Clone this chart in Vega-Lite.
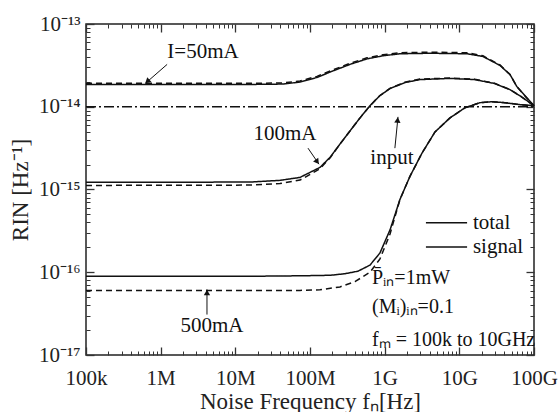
{
"$schema": "https://vega.github.io/schema/vega-lite/v6.json",
"width": 448, "height": 331,
"autosize": {"type": "none"},
"padding": {"left": 86, "top": 24, "right": 24, "bottom": 57},
"background": "white",
"config": {
 "font": "Liberation Serif, 'Times New Roman', serif",
 "view": {"stroke": "#222", "strokeWidth": 1.5},
 "axis": {"grid": false, "domain": false, "labelFont": "Liberation Serif, 'Times New Roman', serif", "titleFont": "Liberation Serif, 'Times New Roman', serif", "labelColor": "#222", "titleColor": "#222", "tickColor": "#333", "labelFontSize": 21, "titleFontSize": 23, "titleFontWeight": "normal", "labelFlush": false, "labelOverlap": false, "labelBound": false},
 "text": {"font": "Liberation Serif, 'Times New Roman', serif", "color": "#111"}
},
"datasets": {
 "curves": [
  {"c":"50mA","k":"total","f":1e5,"rin":1.86e-14},{"c":"50mA","k":"total","f":1.57e7,"rin":1.86e-14},{"c":"50mA","k":"total","f":4.35e7,"rin":1.88e-14},{"c":"50mA","k":"total","f":7.35e7,"rin":1.99e-14},{"c":"50mA","k":"total","f":1.24e8,"rin":2.26e-14},{"c":"50mA","k":"total","f":2.03e8,"rin":2.71e-14},{"c":"50mA","k":"total","f":3.43e8,"rin":3.25e-14},{"c":"50mA","k":"total","f":5.8e8,"rin":3.79e-14},{"c":"50mA","k":"total","f":9.5e8,"rin":4.13e-14},{"c":"50mA","k":"total","f":1.6e9,"rin":4.37e-14},{"c":"50mA","k":"total","f":4.05e9,"rin":4.43e-14},{"c":"50mA","k":"total","f":1.27e10,"rin":4.37e-14},{"c":"50mA","k":"total","f":2.07e10,"rin":4.05e-14},{"c":"50mA","k":"total","f":3.5e10,"rin":3.16e-14},{"c":"50mA","k":"total","f":4.77e10,"rin":2.45e-14},{"c":"50mA","k":"total","f":5.9e10,"rin":1.75e-14},{"c":"50mA","k":"total","f":7.57e10,"rin":1.36e-14},{"c":"50mA","k":"total","f":1e11,"rin":1.03e-14},
  {"c":"50mA","k":"signal","f":1e5,"rin":1.92e-14},{"c":"50mA","k":"signal","f":1.57e7,"rin":1.92e-14},{"c":"50mA","k":"signal","f":4.35e7,"rin":1.94e-14},{"c":"50mA","k":"signal","f":7.35e7,"rin":2.05e-14},{"c":"50mA","k":"signal","f":1.24e8,"rin":2.33e-14},{"c":"50mA","k":"signal","f":2.03e8,"rin":2.79e-14},{"c":"50mA","k":"signal","f":3.43e8,"rin":3.35e-14},{"c":"50mA","k":"signal","f":5.8e8,"rin":3.9e-14},{"c":"50mA","k":"signal","f":9.5e8,"rin":4.25e-14},{"c":"50mA","k":"signal","f":1.6e9,"rin":4.5e-14},{"c":"50mA","k":"signal","f":4.05e9,"rin":4.56e-14},{"c":"50mA","k":"signal","f":1.27e10,"rin":4.5e-14},{"c":"50mA","k":"signal","f":2.07e10,"rin":4.13e-14},{"c":"50mA","k":"signal","f":3.5e10,"rin":3.2e-14},{"c":"50mA","k":"signal","f":4.77e10,"rin":2.45e-14},{"c":"50mA","k":"signal","f":5.9e10,"rin":1.75e-14},{"c":"50mA","k":"signal","f":7.57e10,"rin":1.35e-14},{"c":"50mA","k":"signal","f":1e11,"rin":1.02e-14},
  {"c":"100mA","k":"total","f":1e5,"rin":1.22e-15},{"c":"100mA","k":"total","f":1.57e7,"rin":1.23e-15},{"c":"100mA","k":"total","f":3.96e7,"rin":1.29e-15},{"c":"100mA","k":"total","f":7.35e7,"rin":1.4e-15},{"c":"100mA","k":"total","f":1.36e8,"rin":1.85e-15},{"c":"100mA","k":"total","f":1.86e8,"rin":2.45e-15},{"c":"100mA","k":"total","f":2.52e8,"rin":3.54e-15},{"c":"100mA","k":"total","f":3.43e8,"rin":5.1e-15},{"c":"100mA","k":"total","f":4.68e8,"rin":7.34e-15},{"c":"100mA","k":"total","f":6.36e8,"rin":1.03e-14},{"c":"100mA","k":"total","f":8.6e8,"rin":1.36e-14},{"c":"100mA","k":"total","f":1.18e9,"rin":1.66e-14},{"c":"100mA","k":"total","f":1.87e9,"rin":1.96e-14},{"c":"100mA","k":"total","f":2.97e9,"rin":2.13e-14},{"c":"100mA","k":"total","f":7.5e9,"rin":2.2e-14},{"c":"100mA","k":"total","f":1.6e10,"rin":2.13e-14},{"c":"100mA","k":"total","f":2.96e10,"rin":1.91e-14},{"c":"100mA","k":"total","f":4.77e10,"rin":1.61e-14},{"c":"100mA","k":"total","f":6.8e10,"rin":1.32e-14},{"c":"100mA","k":"total","f":1e11,"rin":1.03e-14},
  {"c":"100mA","k":"signal","f":1e5,"rin":1.12e-15},{"c":"100mA","k":"signal","f":1.57e7,"rin":1.13e-15},{"c":"100mA","k":"signal","f":3.96e7,"rin":1.18e-15},{"c":"100mA","k":"signal","f":7.35e7,"rin":1.3e-15},{"c":"100mA","k":"signal","f":1.36e8,"rin":1.78e-15},{"c":"100mA","k":"signal","f":1.86e8,"rin":2.42e-15},{"c":"100mA","k":"signal","f":2.52e8,"rin":3.54e-15},{"c":"100mA","k":"signal","f":3.43e8,"rin":5.1e-15},{"c":"100mA","k":"signal","f":4.68e8,"rin":7.34e-15},{"c":"100mA","k":"signal","f":6.36e8,"rin":1.03e-14},{"c":"100mA","k":"signal","f":8.6e8,"rin":1.36e-14},{"c":"100mA","k":"signal","f":1.18e9,"rin":1.67e-14},{"c":"100mA","k":"signal","f":1.87e9,"rin":1.98e-14},{"c":"100mA","k":"signal","f":2.97e9,"rin":2.16e-14},{"c":"100mA","k":"signal","f":7.5e9,"rin":2.22e-14},{"c":"100mA","k":"signal","f":1.6e10,"rin":2.15e-14},{"c":"100mA","k":"signal","f":2.96e10,"rin":1.92e-14},{"c":"100mA","k":"signal","f":4.77e10,"rin":1.61e-14},{"c":"100mA","k":"signal","f":6.8e10,"rin":1.32e-14},{"c":"100mA","k":"signal","f":1e11,"rin":1.02e-14},
  {"c":"500mA","k":"total","f":1e5,"rin":8.94e-17},{"c":"500mA","k":"total","f":1.57e7,"rin":8.94e-17},{"c":"500mA","k":"total","f":7.35e7,"rin":9.06e-17},{"c":"500mA","k":"total","f":1.86e8,"rin":9.19e-17},{"c":"500mA","k":"total","f":2.94e8,"rin":9.6e-17},{"c":"500mA","k":"total","f":4.39e8,"rin":1.03e-16},{"c":"500mA","k":"total","f":6.36e8,"rin":1.22e-16},{"c":"500mA","k":"total","f":8.65e8,"rin":1.71e-16},{"c":"500mA","k":"total","f":1.18e9,"rin":3.25e-16},{"c":"500mA","k":"total","f":1.6e9,"rin":7.55e-16},{"c":"500mA","k":"total","f":2.18e9,"rin":1.44e-15},{"c":"500mA","k":"total","f":3.16e9,"rin":2.75e-15},{"c":"500mA","k":"total","f":4.72e9,"rin":4.96e-15},{"c":"500mA","k":"total","f":7.5e9,"rin":7.34e-15},{"c":"500mA","k":"total","f":1.19e10,"rin":9.72e-15},{"c":"500mA","k":"total","f":1.89e10,"rin":1.12e-14},{"c":"500mA","k":"total","f":2.74e10,"rin":1.15e-14},{"c":"500mA","k":"total","f":4.08e10,"rin":1.12e-14},{"c":"500mA","k":"total","f":6.49e10,"rin":1.06e-14},{"c":"500mA","k":"total","f":1e11,"rin":1.03e-14},
  {"c":"500mA","k":"signal","f":1e5,"rin":6.03e-17},{"c":"500mA","k":"signal","f":1.57e7,"rin":6.03e-17},{"c":"500mA","k":"signal","f":7.35e7,"rin":6.03e-17},{"c":"500mA","k":"signal","f":1.36e8,"rin":6.13e-17},{"c":"500mA","k":"signal","f":2.52e8,"rin":6.65e-17},{"c":"500mA","k":"signal","f":4.0e8,"rin":7.7e-17},{"c":"500mA","k":"signal","f":6.36e8,"rin":1.0e-16},{"c":"500mA","k":"signal","f":8.65e8,"rin":1.45e-16},{"c":"500mA","k":"signal","f":1.18e9,"rin":2.9e-16},{"c":"500mA","k":"signal","f":1.6e9,"rin":7.55e-16},{"c":"500mA","k":"signal","f":2.18e9,"rin":1.44e-15},{"c":"500mA","k":"signal","f":3.16e9,"rin":2.75e-15},{"c":"500mA","k":"signal","f":4.72e9,"rin":4.96e-15},{"c":"500mA","k":"signal","f":7.5e9,"rin":7.34e-15},{"c":"500mA","k":"signal","f":1.19e10,"rin":9.72e-15},{"c":"500mA","k":"signal","f":1.89e10,"rin":1.12e-14},{"c":"500mA","k":"signal","f":2.74e10,"rin":1.15e-14},{"c":"500mA","k":"signal","f":4.08e10,"rin":1.12e-14},{"c":"500mA","k":"signal","f":6.49e10,"rin":1.06e-14},{"c":"500mA","k":"signal","f":1e11,"rin":1.03e-14}
 ]
},
"layer": [
 {"data": {"name": "curves"},
  "mark": {"type": "line", "color": "#111", "strokeWidth": 1.5},
  "encoding": {
   "x": {"field": "f", "type": "quantitative", "scale": {"type": "log", "domain": [100000, 100000000000], "nice": false},
     "axis": {"orient": "bottom", "values": [1e5,1e6,1e7,1e8,1e9,1e10,1e11], "ticks": false, "labelExpr": "['100k','1M','10M','100M','1G','10G','100G'][round(log(datum.value)/LN10)-5]", "labelPadding": 12, "title": "Noise Frequency fₙ[Hz]", "titlePadding": 2}},
   "y": {"field": "rin", "type": "quantitative", "scale": {"type": "log", "domain": [1e-17, 1e-13], "nice": false},
     "axis": {"orient": "left", "values": [1e-17,1e-16,1e-15,1e-14,1e-13], "ticks": false, "labelExpr": "['10⁻¹⁷','10⁻¹⁶','10⁻¹⁵','10⁻¹⁴','10⁻¹³'][round(log(datum.value)/LN10)+17]", "labelPadding": 6, "title": "RIN [Hz⁻¹]", "titlePadding": 6}},
   "strokeDash": {"field": "k", "type": "nominal", "scale": {"domain": ["total", "signal"], "range": [[1, 0], [6, 4]]}, "legend": null},
   "detail": {"field": "c"}
  }},
 {"data": {"values": [{"f": 1e5, "rin": 1e-14}, {"f": 1e11, "rin": 1e-14}]},
  "mark": {"type": "line", "color": "#111", "strokeWidth": 1.3, "strokeDash": [10, 3, 2, 3]},
  "encoding": {
   "x": {"field": "f", "type": "quantitative", "scale": {"type": "log", "domain": [100000, 100000000000], "nice": false},
     "axis": {"orient": "bottom", "values": [1e5,1e6,1e7,1e8,1e9,1e10,1e11], "labels": false, "tickSize": -8, "tickWidth": 1.3, "title": null}},
   "y": {"field": "rin", "type": "quantitative", "scale": {"type": "log", "domain": [1e-17, 1e-13], "nice": false},
     "axis": {"orient": "left", "values": [1e-17,1e-16,1e-15,1e-14,1e-13], "labels": false, "tickSize": -8, "tickWidth": 1.3, "title": null}}
  }},
 {"data": {"values": [
   {"f": 3.69e6, "rin": 4.59e-14, "t": "I=50mA"},
   {"f": 4.62e7, "rin": 4.69e-15, "t": "100mA"},
   {"f": 1.25e9, "rin": 2.39e-15, "t": "input"},
   {"f": 4.86e6, "rin": 2.26e-17, "t": "500mA"}]},
  "mark": {"type": "text", "fontSize": 21, "align": "center", "baseline": "middle"},
  "encoding": {
   "x": {"field": "f", "type": "quantitative", "scale": {"type": "log", "domain": [100000, 100000000000], "nice": false},
     "axis": {"orient": "bottom", "values": [2e5,3e5,4e5,5e5,6e5,7e5,8e5,9e5,2e6,3e6,4e6,5e6,6e6,7e6,8e6,9e6,2e7,3e7,4e7,5e7,6e7,7e7,8e7,9e7,2e8,3e8,4e8,5e8,6e8,7e8,8e8,9e8,2e9,3e9,4e9,5e9,6e9,7e9,8e9,9e9,2e10,3e10,4e10,5e10,6e10,7e10,8e10,9e10], "labels": false, "tickSize": -4, "tickWidth": 1, "title": null}},
   "y": {"field": "rin", "type": "quantitative", "scale": {"type": "log", "domain": [1e-17, 1e-13], "nice": false},
     "axis": {"orient": "left", "values": [2e-17,3e-17,4e-17,5e-17,6e-17,7e-17,8e-17,9e-17,2e-16,3e-16,4e-16,5e-16,6e-16,7e-16,8e-16,9e-16,2e-15,3e-15,4e-15,5e-15,6e-15,7e-15,8e-15,9e-15,2e-14,3e-14,4e-14,5e-14,6e-14,7e-14,8e-14,9e-14], "labels": false, "tickSize": -4, "tickWidth": 1, "title": null}},
   "text": {"field": "t"}
  }},
 {"data": {"values": [
   {"f": 6.76e8, "rin": 8.5e-17, "t": "P̄ᵢₙ=1mW"},
   {"f": 6.76e8, "rin": 3.8e-17, "t": "(Mᵢ)ᵢₙ=0.1"},
   {"f": 6.76e8, "rin": 1.5e-17, "t": "fₘ = 100k to 10GHz"}]},
  "mark": {"type": "text", "fontSize": 20, "align": "left", "baseline": "middle"},
  "encoding": {
   "x": {"field": "f", "type": "quantitative", "scale": {"type": "log", "domain": [100000, 100000000000], "nice": false},
     "axis": {"orient": "top", "values": [1e5,1e6,1e7,1e8,1e9,1e10,1e11], "labels": false, "tickSize": -8, "tickWidth": 1.3, "title": null}},
   "y": {"field": "rin", "type": "quantitative", "scale": {"type": "log", "domain": [1e-17, 1e-13], "nice": false},
     "axis": {"orient": "right", "values": [1e-17,1e-16,1e-15,1e-14,1e-13], "labels": false, "tickSize": -8, "tickWidth": 1.3, "title": null}},
   "text": {"field": "t"}
  }},
 {"data": {"values": [
   {"f": 1.52e10, "rin": 3.96e-16, "t": "total"},
   {"f": 1.52e10, "rin": 2.02e-16, "t": "signal"}]},
  "mark": {"type": "text", "fontSize": 21, "align": "left", "baseline": "middle"},
  "encoding": {
   "x": {"field": "f", "type": "quantitative", "scale": {"type": "log", "domain": [100000, 100000000000], "nice": false},
     "axis": {"orient": "top", "values": [2e5,3e5,4e5,5e5,6e5,7e5,8e5,9e5,2e6,3e6,4e6,5e6,6e6,7e6,8e6,9e6,2e7,3e7,4e7,5e7,6e7,7e7,8e7,9e7,2e8,3e8,4e8,5e8,6e8,7e8,8e8,9e8,2e9,3e9,4e9,5e9,6e9,7e9,8e9,9e9,2e10,3e10,4e10,5e10,6e10,7e10,8e10,9e10], "labels": false, "tickSize": -4, "tickWidth": 1, "title": null}},
   "y": {"field": "rin", "type": "quantitative", "scale": {"type": "log", "domain": [1e-17, 1e-13], "nice": false},
     "axis": {"orient": "right", "values": [2e-17,3e-17,4e-17,5e-17,6e-17,7e-17,8e-17,9e-17,2e-16,3e-16,4e-16,5e-16,6e-16,7e-16,8e-16,9e-16,2e-15,3e-15,4e-15,5e-15,6e-15,7e-15,8e-15,9e-15,2e-14,3e-14,4e-14,5e-14,6e-14,7e-14,8e-14,9e-14], "labels": false, "tickSize": -4, "tickWidth": 1, "title": null}},
   "text": {"field": "t"}
  }},
 {"data": {"values": [
   {"f": 3.57e9, "f2": 1.27e10, "rin": 3.96e-16},
   {"f": 3.57e9, "f2": 1.27e10, "rin": 2.02e-16}]},
  "mark": {"type": "rule", "color": "#111", "strokeWidth": 1.4},
  "encoding": {
   "x": {"field": "f", "type": "quantitative", "scale": {"type": "log", "domain": [100000, 100000000000], "nice": false}, "axis": null},
   "x2": {"field": "f2"},
   "y": {"field": "rin", "type": "quantitative", "scale": {"type": "log", "domain": [1e-17, 1e-13], "nice": false}, "axis": null}
  }},
 {"data": {"values": [
   {"f": 1.22e6, "rin": 3.25e-14, "f2": 6.17e5, "rin2": 1.9e-14},
   {"f": 9.4e7, "rin": 3.16e-15, "f2": 1.32e8, "rin2": 2.02e-15},
   {"f": 1.37e9, "rin": 3.16e-15, "f2": 1.51e9, "rin2": 7.55e-15},
   {"f": 4.17e6, "rin": 3.08e-17, "f2": 4.17e6, "rin2": 6.2e-17}]},
  "mark": {"type": "rule", "color": "#111", "strokeWidth": 1},
  "encoding": {
   "x": {"field": "f", "type": "quantitative", "scale": {"type": "log", "domain": [100000, 100000000000], "nice": false}, "axis": null},
   "x2": {"field": "f2"},
   "y": {"field": "rin", "type": "quantitative", "scale": {"type": "log", "domain": [1e-17, 1e-13], "nice": false}, "axis": null},
   "y2": {"field": "rin2"}
  }},
 {"data": {"values": [{"f": 6.62e5, "rin": 2.02e-14}]},
  "mark": {"type": "point", "shape": "triangle-up", "filled": true, "color": "#111", "size": 40, "angle": 229, "opacity": 1},
  "encoding": {
   "x": {"field": "f", "type": "quantitative", "scale": {"type": "log", "domain": [100000, 100000000000], "nice": false}, "axis": null},
   "y": {"field": "rin", "type": "quantitative", "scale": {"type": "log", "domain": [1e-17, 1e-13], "nice": false}, "axis": null}
  }},
 {"data": {"values": [{"f": 1.25e8, "rin": 2.16e-15}]},
  "mark": {"type": "point", "shape": "triangle-up", "filled": true, "color": "#111", "size": 40, "angle": 145, "opacity": 1},
  "encoding": {
   "x": {"field": "f", "type": "quantitative", "scale": {"type": "log", "domain": [100000, 100000000000], "nice": false}, "axis": null},
   "y": {"field": "rin", "type": "quantitative", "scale": {"type": "log", "domain": [1e-17, 1e-13], "nice": false}, "axis": null}
  }},
 {"data": {"values": [{"f": 1.49e9, "rin": 6.93e-15}]},
  "mark": {"type": "point", "shape": "triangle-up", "filled": true, "color": "#111", "size": 40, "angle": 5, "opacity": 1},
  "encoding": {
   "x": {"field": "f", "type": "quantitative", "scale": {"type": "log", "domain": [100000, 100000000000], "nice": false}, "axis": null},
   "y": {"field": "rin", "type": "quantitative", "scale": {"type": "log", "domain": [1e-17, 1e-13], "nice": false}, "axis": null}
  }},
 {"data": {"values": [{"f": 4.17e6, "rin": 5.7e-17}]},
  "mark": {"type": "point", "shape": "triangle-up", "filled": true, "color": "#111", "size": 40, "angle": 0, "opacity": 1},
  "encoding": {
   "x": {"field": "f", "type": "quantitative", "scale": {"type": "log", "domain": [100000, 100000000000], "nice": false}, "axis": null},
   "y": {"field": "rin", "type": "quantitative", "scale": {"type": "log", "domain": [1e-17, 1e-13], "nice": false}, "axis": null}
  }}
],
"resolve": {"axis": {"x": "independent", "y": "independent"}}
}
